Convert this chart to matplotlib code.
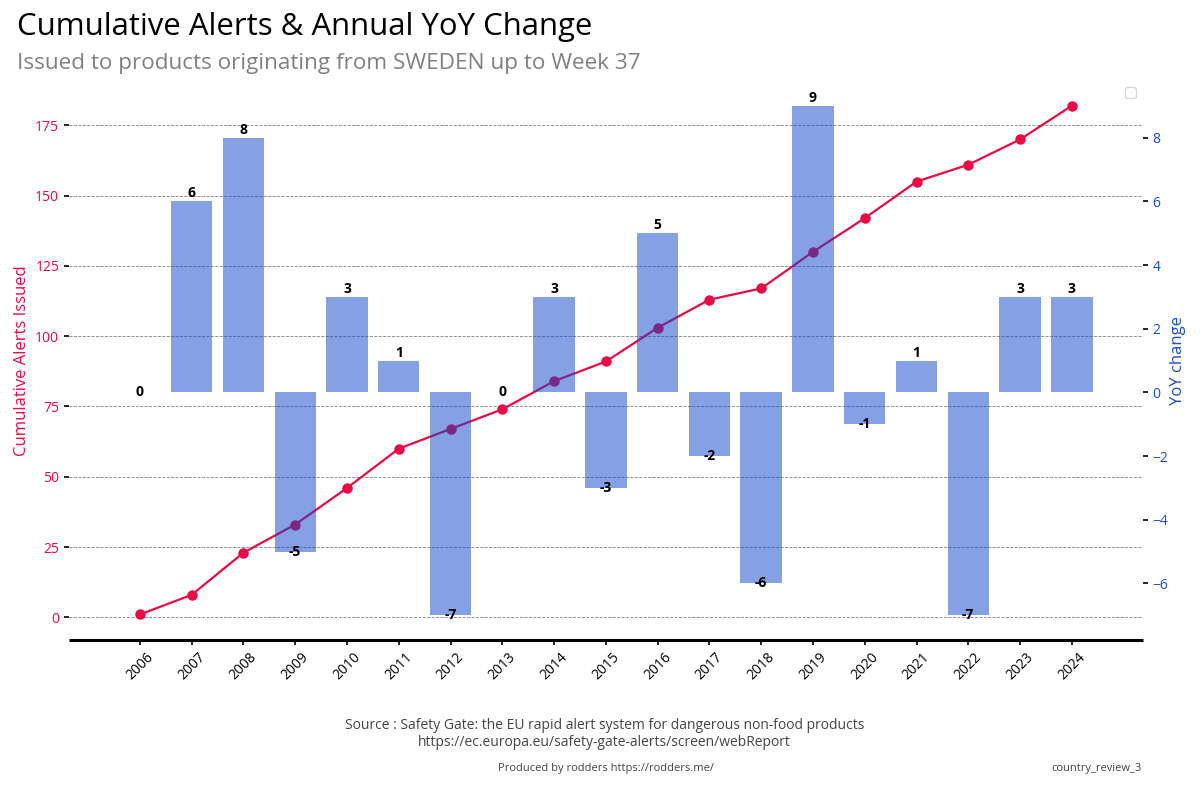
import matplotlib
matplotlib.use('Agg')
import matplotlib.pyplot as plt

years = list(range(2006, 2025))
cumulative = [1, 8, 23, 33, 46, 60, 67, 74, 84, 91, 103, 113, 117, 130, 142, 155, 161, 170, 182]
yoy = [0, 6, 8, -5, 3, 1, -7, 0, 3, -3, 5, -2, -6, 9, -1, 1, -7, 3, 3]
left_ticks = [0, 25, 50, 75, 100, 125, 150, 175]
right_ticks = [-6, -4, -2, 0, 2, 4, 6, 8]

title = "Cumulative Alerts & Annual YoY Change"
subtitle = "Issued to products originating from SWEDEN up to Week 37"
source = ("Source : Safety Gate: the EU rapid alert system for dangerous non-food products\n"
          "https://ec.europa.eu/safety-gate-alerts/screen/webReport")
produced = "Produced by rodders https://rodders.me/"
tag = "country_review_3"

plt.rcParams['font.family'] = ['Open Sans', 'DejaVu Sans']
RED = '#eb0a46'
BLUE = '#1a4fd0'
BAR = '#0d45c9'

fig = plt.figure(figsize=(12, 8), dpi=100)
ax1 = fig.add_axes([0.0575, 0.2, 0.8948, 0.6995])
ax1.plot(years, cumulative, color=RED, lw=1.6, marker='o', ms=6.5, zorder=3)
ax1.set_xlim(2004.63, 2025.37)
ax1.set_ylim(-8.08, 191.0)
ax1.set_yticks(left_ticks)
ax1.set_xticks(years)
ax1.set_xticklabels([str(y) for y in years], rotation=45, fontsize=10)
ax1.grid(axis='y', ls='--', color='gray', lw=0.6)
ax1.set_axisbelow(True)
for s in ['top', 'left', 'right']:
    ax1.spines[s].set_visible(False)
ax1.spines['bottom'].set_linewidth(2.2)
ax1.spines['bottom'].set_color('black')
ax1.spines['bottom'].set_capstyle('butt')
ax1.tick_params(axis='y', colors='black', labelsize=10, width=1.2)
ax1.tick_params(axis='y', labelcolor=RED)
ax1.tick_params(axis='x', width=1.2)
ax1.set_ylabel("Cumulative Alerts Issued", color=RED, fontsize=12)

ax2 = ax1.twinx()
ax2.bar(years, yoy, width=0.8, color=BAR, alpha=0.5, zorder=2)
ax2.set_ylim(-7.78, 9.80)
ax2.set_yticks(right_ticks)
for s in ['top', 'left', 'right', 'bottom']:
    ax2.spines[s].set_visible(False)
ax2.tick_params(axis='y', colors='black', labelsize=10, width=1.2)
ax2.tick_params(axis='y', labelcolor=BLUE)
ax2.set_ylabel("YoY change", color=BLUE, fontsize=12, labelpad=1)
for x, v in zip(years, yoy):
    if v > 0:
        ax2.text(x, v + 0.03, str(v), ha='center', va='bottom', fontweight='bold', fontsize=10)
    else:
        ax2.text(x, v, str(v), ha='center', va='center', fontweight='bold', fontsize=10)
ax2.legend(handles=[], loc='upper right')

fig.text(0.014, 1 - 27 / 800, title, fontsize=22.4, ha='left', va='center', color='black')
fig.text(0.014, 1 - 63 / 800, subtitle, fontsize=16.2, ha='left', va='center', color='gray')
fig.text(0.504, 1 - 734 / 800, source, fontsize=10, ha='center', va='center', color='#444444')
fig.text(0.505, 1 - 768 / 800, produced, fontsize=8, ha='center', va='center', color='#444444')
fig.text(0.951, 1 - 768 / 800, tag, fontsize=8, ha='right', va='center', color='#444444')

fig.savefig('out.png', dpi=100)
